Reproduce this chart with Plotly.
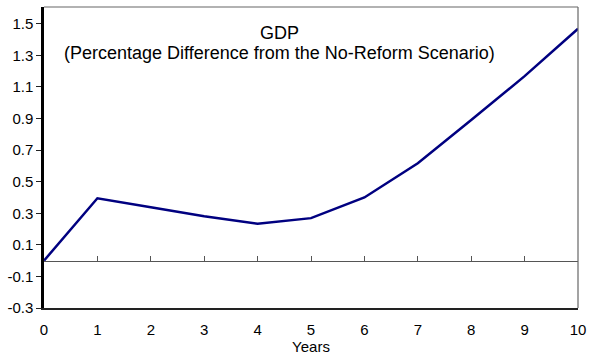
import plotly.graph_objects as go

years = [0, 1, 2, 3, 4, 5, 6, 7, 8, 9, 10]
gdp = [0.0, 0.395, 0.338, 0.281, 0.234, 0.269, 0.40, 0.617, 0.89, 1.168, 1.468]
y_ticks = [-0.3, -0.1, 0.1, 0.3, 0.5, 0.7, 0.9, 1.1, 1.3, 1.5]
title_lines = ["GDP", "(Percentage Difference from the No-Reform Scenario)"]

ymin, ymax = -0.3, 1.606
zero_pos = (0 - ymin) / (ymax - ymin)

fig = go.Figure()
fig.add_trace(go.Scatter(x=years, y=gdp, mode="lines",
                         line=dict(color="#000080", width=2.5), showlegend=False))
fig.add_trace(go.Scatter(x=years, y=gdp, xaxis="x2", yaxis="y", mode="lines",
                         line=dict(width=0), hoverinfo="skip", showlegend=False))

font = "Liberation Sans, Arial, sans-serif"
PH = 301.0
fig.update_layout(
    width=593, height=358,
    margin=dict(l=43, r=10, t=7, b=50),
    paper_bgcolor="white", plot_bgcolor="white",
    font=dict(family=font, size=15, color="black"),
    xaxis=dict(range=[0, 10], tickmode="array", tickvals=years,
               ticks="", showgrid=False, zeroline=False,
               showline=True, linecolor="#222", linewidth=1.5, mirror=False,
               ticklabelstandoff=7,
               title=dict(text="Years", font=dict(size=15), standoff=0),
               tickfont=dict(size=15)),
    xaxis2=dict(range=[0, 10], overlaying="x", anchor="free", position=zero_pos,
                tickmode="array", tickvals=years, ticks="inside", ticklen=5,
                tickcolor="#555", tickwidth=1, showticklabels=False,
                showgrid=False, zeroline=False, showline=True,
                linecolor="#555", linewidth=1.2),
    yaxis=dict(range=[ymin, ymax], tickmode="array", tickvals=y_ticks,
               ticktext=[f"{v:.1f}" for v in y_ticks],
               ticks="outside", ticklen=5, tickcolor="#222",
               showgrid=False, zeroline=False,
               showline=True, linecolor="black", linewidth=2.5,
               tickfont=dict(size=15)),
    shapes=[
        dict(type="line", xref="paper", yref="paper", x0=0, x1=1, y0=1, y1=1,
             line=dict(color="#666", width=1.2)),
        dict(type="line", xref="paper", yref="paper", x0=1, x1=1, y0=0, y1=1,
             line=dict(color="#666", width=1.2)),
    ],
    annotations=[
        dict(text=title_lines[0], x=(281 - 43) / 540, y=1 - (32.5 - 7) / PH,
             xref="paper", yref="paper", showarrow=False, font=dict(size=18),
             xanchor="center", yanchor="middle"),
        dict(text=title_lines[1], x=(281 - 43) / 540, y=1 - (52.5 - 7) / PH,
             xref="paper", yref="paper", showarrow=False, font=dict(size=18),
             xanchor="center", yanchor="middle"),
    ],
)
fig.write_html("out.html")
